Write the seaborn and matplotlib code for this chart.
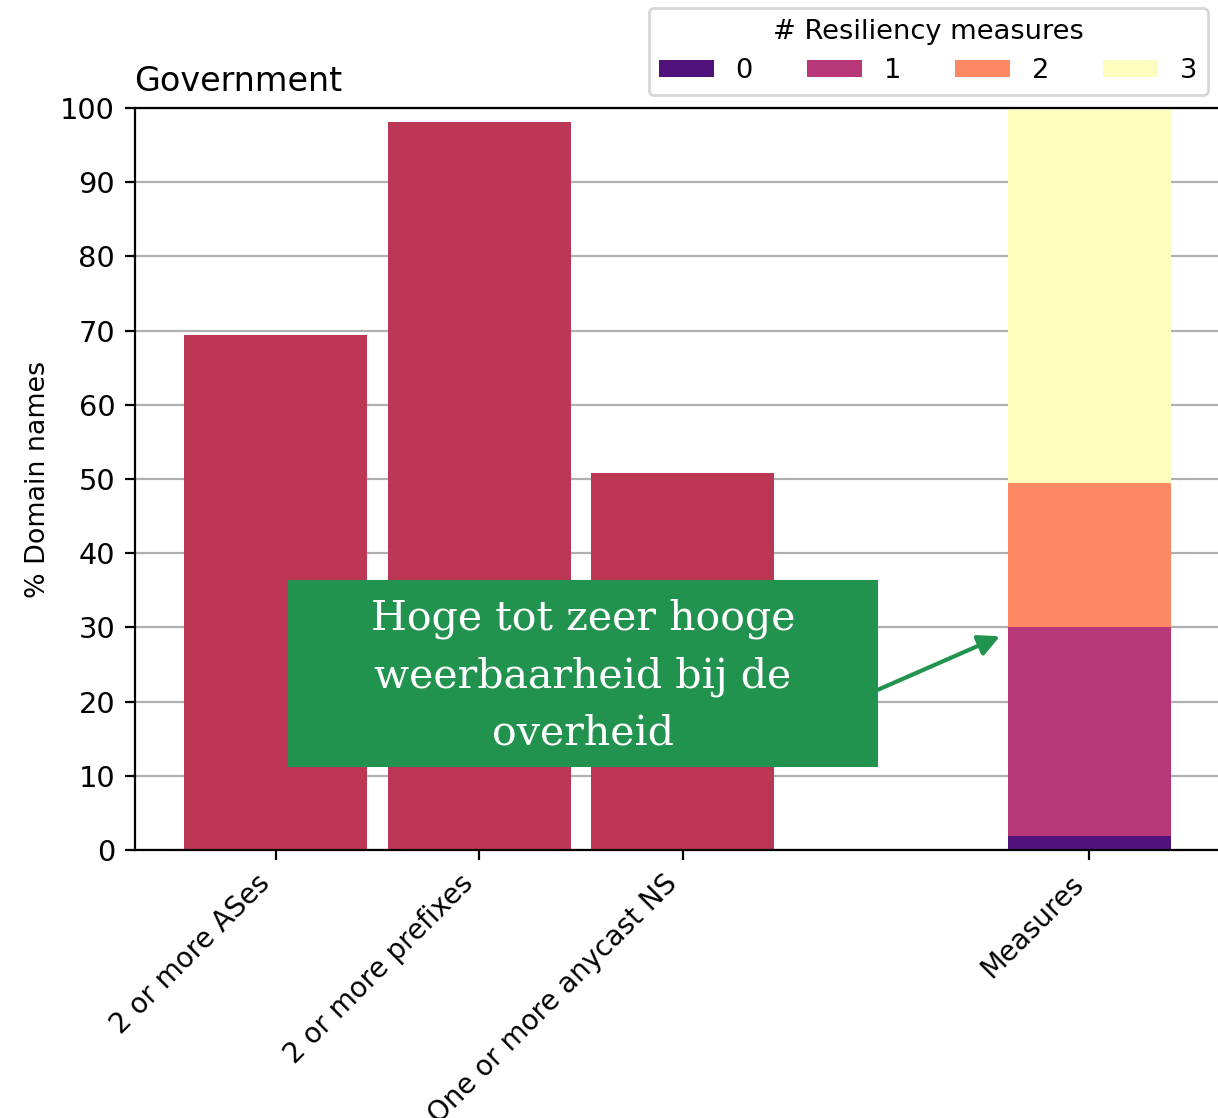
"""Resiliency measures for government domain names."""

import matplotlib
matplotlib.use('Agg')
import matplotlib.pyplot as plt
from matplotlib.patches import Patch, Rectangle
import pandas as pd
import seaborn as sns

# data
categories = ['2 or more ASes', '2 or more prefixes', 'One or more anycast NS']
pct_domains = [69.4, 98.1, 50.8]

measure_levels = ['0', '1', '2', '3']
measure_pct = [1.9, 28.15, 19.45, 50.5]

bar_color = '#bc3754'
cmap = plt.get_cmap('magma')
level_colors = [cmap(v) for v in (0.25, 0.5, 0.75, 1.0)]
green = '#22934f'

order = categories + [' ', 'Measures']

plt.rcParams['font.family'] = ['DejaVu Sans']
plt.rcParams['font.size'] = 10.4

fig = plt.figure(figsize=(6.09, 5.59), dpi=200)
ax = fig.add_axes([0.1105, 0.2397, 0.900, 0.6637])
ax.grid(axis='y', color='#b0b0b0', linewidth=0.8)
ax.set_axisbelow(True)

df = pd.DataFrame({'category': categories, 'pct': pct_domains})
sns.barplot(data=df, x='category', y='pct', order=order, color=bar_color,
            saturation=1, width=0.9, errorbar=None, ax=ax)

# stacked bar: draw cumulative totals from the top down
cum = pd.Series(measure_pct).cumsum().tolist()
for level, top, col in reversed(list(zip(measure_levels, cum, level_colors))):
    sdf = pd.DataFrame({'category': ['Measures'], 'pct': [top]})
    sns.barplot(data=sdf, x='category', y='pct', order=order, color=col,
                saturation=1, width=0.8, errorbar=None, ax=ax)

ax.set_xlim(-0.695, 4.695)
ax.set_ylim(0, 100)
ax.set_yticks(range(0, 101, 10))
ax.set_xticks([0, 1, 2, 4])
ax.set_xticklabels(categories + ['Measures'], rotation=45, ha='right',
                   fontsize=10)
ax.grid(axis='y', color='#b0b0b0', linewidth=0.8)
ax.grid(axis='x', visible=False)
ax.set_xlabel('')
ax.set_ylabel('% Domain names', fontsize=9.7, labelpad=3.5)
ax.set_title('Government', loc='left', fontsize=12)
ax.spines['right'].set_visible(False)

handles = [Patch(facecolor=c, label=l) for l, c in zip(measure_levels, level_colors)]
ax.legend(handles=handles, title='# Resiliency measures', ncol=4,
          loc='lower right', bbox_to_anchor=(0.979, 1.0175), borderaxespad=0,
          fontsize=9.8, title_fontsize=9.8, handlelength=2.0,
          handleheight=0.6, columnspacing=2.0)

# callout box
ax.add_patch(Rectangle((0.06, 11.2), 2.9, 25.2, facecolor=green,
                       edgecolor='none', zorder=5))
ax.text(1.51, 23.4, 'Hoge tot zeer hooge\nweerbaarheid bij de\noverheid',
        ha='center', va='center', color='white', fontsize=14.8,
        family=['DejaVu Serif'], linespacing=1.55, zorder=6)
ax.annotate('', xy=(3.56, 28.8), xytext=(2.96, 21.6),
            arrowprops=dict(arrowstyle='-|>', color=green, lw=1.5,
                            mutation_scale=16, shrinkA=0, shrinkB=0),
            zorder=6)

fig.savefig('out.png', dpi=200)
